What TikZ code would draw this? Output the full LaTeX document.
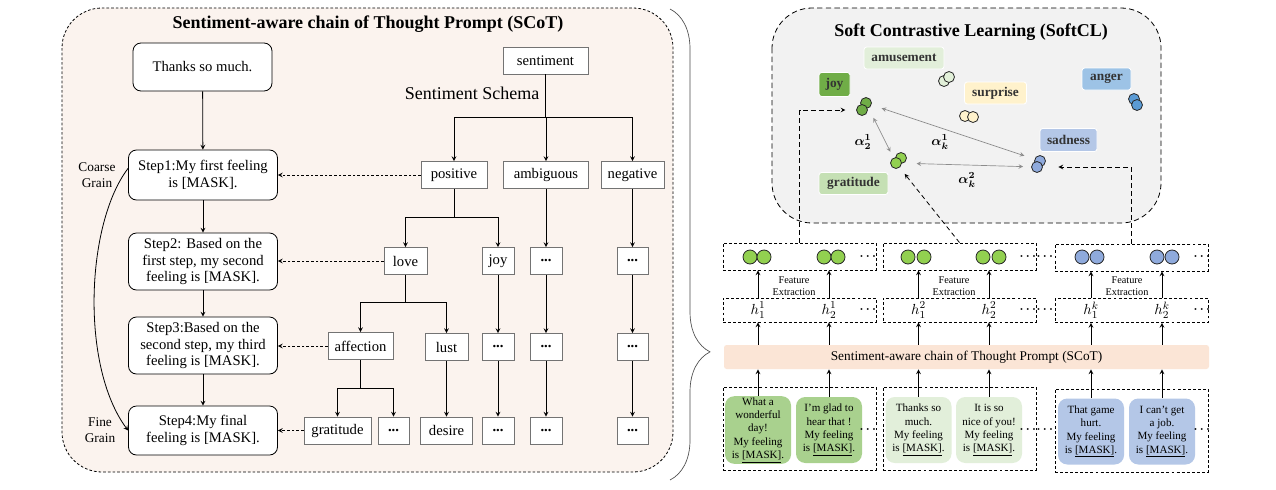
\documentclass[tikz,border=0pt]{standalone}
\usepackage{amsmath,amssymb}
\usepackage{fontspec}
\setmainfont{Liberation Serif}
\usetikzlibrary{decorations.pathreplacing}

\newcommand{\pxl}[1]{#1*0.75pt}

\definecolor{panelbg}{HTML}{FBF3EE}
\definecolor{clbg}{HTML}{F2F2F2}
\definecolor{barbg}{HTML}{FBE5D6}
\definecolor{joyc}{HTML}{70AD47}
\definecolor{grac}{HTML}{92D050}
\definecolor{sadc}{HTML}{8FAADC}
\definecolor{angc}{HTML}{5B9BD5}
\definecolor{amuc}{HTML}{E2F0D9}
\definecolor{surc}{HTML}{FFF2CC}
\definecolor{lamuc}{HTML}{E2EFDA}
\definecolor{lgrac}{HTML}{C5E0B4}
\definecolor{langc}{HTML}{9DC3E6}
\definecolor{lsadc}{HTML}{B4C7E7}
\definecolor{bubg}{HTML}{A9D18E}
\definecolor{bubl}{HTML}{E2EFDA}
\definecolor{bubb}{HTML}{B4C7E7}

\begin{document}
\begin{tikzpicture}[x=0.75pt, y=-0.75pt, line width=0.6pt,
  every node/.style={font=\fontsize{11}{12.5}\selectfont},
  conn/.style={->,>=stealth},
  dconn/.style={->,>=stealth,dash pattern=on 2pt off 1.5pt},
  fconn/.style={->,>=stealth,dash pattern=on 3.5pt off 2.5pt},
  simconn/.style={<->,>=stealth,draw=black!45,line width=0.5pt},
  stepbox/.style={draw,fill=white,rounded corners=6pt,align=center,
    minimum width=\pxl{149},inner sep=1pt},
  tbox/.style={draw=black!55,fill=white,minimum height=\pxl{27},inner sep=1pt},
  emo/.style={draw=white,rounded corners=2pt,text=black!80,
    font=\fontsize{10}{12}\selectfont\bfseries,minimum height=\pxl{22},inner sep=2pt},
  emodot/.style={circle,draw=black!85,minimum size=\pxl{11},inner sep=0pt},
  featdot/.style={circle,draw=black!85,minimum size=\pxl{14},inner sep=0pt},
  dbox/.style={draw,dash pattern=on 2.2pt off 1.6pt,minimum width=\pxl{153},inner sep=0pt},
  hlab/.style={inner sep=0pt},
  bubble/.style={rounded corners=7pt,minimum width=\pxl{66},minimum height=\pxl{66},
    align=center,inner sep=1pt,font=\fontsize{8.3}{10}\selectfont},
  more/.style={font=\fontsize{9}{9}\selectfont\boldmath,inner sep=0pt}]

  \fill[white] (0,0) rectangle (1276,489);
  \useasboundingbox (0,0) rectangle (1276,489);

  % SCoT panel
  \draw[dash pattern=on 2pt off 1.5pt,fill=panelbg,rounded corners=30pt]
    (62,8) rectangle (673,472);
  \node[font=\fontsize{13.5}{16}\selectfont\bfseries] (scottitle) at (368,24)
    {Sentiment-aware chain of Thought Prompt (SCoT)};

  % Steps
  \node[stepbox,minimum width=\pxl{139},minimum height=\pxl{48}] (thanks) at (202.5,67) {Thanks so much.};
  \node[stepbox,minimum height=\pxl{50}] (s1) at (203,175) {Step1:My first feeling\\is [MASK].};
  \node[stepbox,minimum height=\pxl{57}] (s2) at (203,261.5) {Step2: Based on the\\first step, my second\\feeling is [MASK].};
  \node[stepbox,minimum height=\pxl{57}] (s3) at (203,345.5) {Step3:Based on the\\second step, my third\\feeling is [MASK].};
  \node[stepbox,minimum height=\pxl{49}] (s4) at (203,430.5) {Step4:My final\\feeling is [MASK].};
  \foreach \a/\b in {thanks/s1,s1/s2,s2/s3,s3/s4}
    \draw[conn] (\a) -- (\b);

  \node[font=\fontsize{10}{12}\selectfont,align=center] (coarse) at (97,175) {Coarse\\Grain};
  \node[font=\fontsize{10}{12}\selectfont,align=center] (fine) at (100,430) {Fine\\Grain};
  \draw[conn] ([yshift=5pt]s1.west) .. controls +(-42,55) and +(-48,-65) .. (s4.west);

  % Sentiment schema
  \node[tbox,minimum width=\pxl{85}] (sentiment) at (545.5,60.5) {sentiment};
  \node[font=\fontsize{13.5}{16}\selectfont] (schema) at (472,93) {Sentiment Schema};

  \node[tbox,minimum width=\pxl{66}] (positive) at (454,175) {positive};
  \node[tbox,minimum width=\pxl{85}] (ambiguous) at (546,175) {ambiguous};
  \node[tbox,minimum width=\pxl{63}] (negative) at (632.5,175) {negative};

  \node[tbox,minimum width=\pxl{43}] (love) at (405.5,261) {love};
  \node[tbox,minimum width=\pxl{32}] (joy) at (498,261) {joy};
  \node[tbox,minimum width=\pxl{32}] (amb1) at (546,261) {\textbf{...}};
  \node[tbox,minimum width=\pxl{31}] (neg1) at (632.5,261) {\textbf{...}};

  \node[tbox,minimum width=\pxl{65}] (affection) at (360.5,346) {affection};
  \node[tbox,minimum width=\pxl{43}] (lust) at (446.5,347) {lust};
  \node[tbox,minimum width=\pxl{32}] (joy1) at (498,347) {\textbf{...}};
  \node[tbox,minimum width=\pxl{32}] (amb2) at (546,347) {\textbf{...}};
  \node[tbox,minimum width=\pxl{31}] (neg2) at (632.5,347) {\textbf{...}};

  \node[tbox,minimum width=\pxl{67}] (gratitude) at (337.5,430.5) {gratitude};
  \node[tbox,minimum width=\pxl{31}] (aff2) at (393.5,430.5) {\textbf{...}};
  \node[tbox,minimum width=\pxl{52}] (desire) at (446.5,430.5) {desire};
  \node[tbox,minimum width=\pxl{32}] (joy2) at (498,430.5) {\textbf{...}};
  \node[tbox,minimum width=\pxl{32}] (amb3) at (546,430.5) {\textbf{...}};
  \node[tbox,minimum width=\pxl{31}] (neg3) at (632.5,430.5) {\textbf{...}};

  \coordinate (j0) at (545.5,117);
  \draw (sentiment) -- (j0);
  \draw (j0 -| positive) -- (j0 -| negative);
  \foreach \n in {positive,ambiguous,negative}
    \draw[conn] (j0 -| \n) -- (\n);

  \coordinate (j1) at (454,217);
  \draw (positive) -- (j1);
  \draw (j1 -| love) -- (j1 -| joy);
  \foreach \n in {love,joy}
    \draw[conn] (j1 -| \n) -- (\n);

  \coordinate (j2) at (405.5,302);
  \draw (love) -- (j2);
  \draw (j2 -| affection) -- (j2 -| lust);
  \foreach \n in {affection,lust}
    \draw[conn] (j2 -| \n) -- (\n);

  \coordinate (j3) at (360.5,388);
  \draw (affection) -- (j3);
  \draw (j3 -| gratitude) -- (j3 -| aff2);
  \foreach \n in {gratitude,aff2}
    \draw[conn] (j3 -| \n) -- (\n);

  \foreach \a/\b in {ambiguous/amb1,amb1/amb2,amb2/amb3,negative/neg1,neg1/neg2,
      neg2/neg3,joy/joy1,joy1/joy2,lust/desire}
    \draw[conn] (\a) -- (\b);

  \draw[dconn] (positive) -- (positive -| s1.east);
  \draw[dconn] (love) -- (love -| s2.east);
  \draw[dconn] (affection) -- (affection -| s3.east);
  \draw[dconn] (gratitude) -- (gratitude -| s4.east);

  % Brace
  \draw[black!70,line width=0.5pt,decorate,decoration={brace,amplitude=30pt,aspect=0.728}]
    (670,9) -- (670,480);

  % SoftCL panel
  \draw[dash pattern=on 4pt off 2.5pt,fill=clbg,rounded corners=30pt]
    (772,8) rectangle (1161,223);
  \node[font=\fontsize{13.5}{16}\selectfont\bfseries] (cltitle) at (971,32)
    {Soft Contrastive Learning (SoftCL)};

  \node[emo,fill=lamuc,minimum width=\pxl{80}] (lamu) at (904,58) {amusement};
  \node[emo,fill=joyc,minimum width=\pxl{31},minimum height=\pxl{24}] (ljoy) at (834.5,84.5) {joy};
  \node[emo,fill=langc,minimum width=\pxl{49}] (lang) at (1106.5,79) {anger};
  \node[emo,fill=surc,minimum width=\pxl{62}] (lsur) at (995.5,93) {surprise};
  \node[emo,fill=lsadc,minimum width=\pxl{57},minimum height=\pxl{23}] (lsad) at (1068.5,140) {sadness};
  \node[emo,fill=lgrac,minimum width=\pxl{69}] (lgra) at (853.5,183.5) {gratitude};

  \node[emodot,fill=amuc] (amuA) at (944,81) {};
  \node[emodot,fill=amuc] (amuB) at (949,77) {};
  \node[emodot,fill=surc] (surA) at (965,116) {};
  \node[emodot,fill=surc] (surB) at (973,117) {};
  \node[emodot,fill=joyc] (joyA) at (866,103) {};
  \node[emodot,fill=joyc] (joyB) at (862,110) {};
  \node[emodot,fill=grac] (graA) at (901,158) {};
  \node[emodot,fill=grac] (graB) at (896,163) {};
  \node[emodot,fill=sadc] (sadA) at (1040,161) {};
  \node[emodot,fill=sadc] (sadB) at (1037,167) {};
  \node[emodot,fill=angc] (angA) at (1134,99) {};
  \node[emodot,fill=angc] (angB) at (1137,105) {};

  \draw[simconn,shorten <=8pt,shorten >=5pt] (joyA) -- (graB);
  \draw[simconn,shorten <=8pt,shorten >=8pt] (joyA) -- (sadA);
  \draw[simconn,shorten <=11pt,shorten >=6pt] (graB) -- (sadB);

  \node[font=\fontsize{10}{12}\selectfont\boldmath] (a21) at (863,142) {$\alpha_2^1$};
  \node[font=\fontsize{10}{12}\selectfont\boldmath] (ak1) at (940,142) {$\alpha_k^1$};
  \node[font=\fontsize{10}{12}\selectfont\boldmath] (ak2) at (967,180) {$\alpha_k^2$};

  % Feature boxes
  \node[dbox,minimum height=\pxl{27}] (fb1) at (799.5,256.5) {};
  \node[dbox,minimum height=\pxl{27}] (fb2) at (959.5,256.5) {};
  \node[dbox,minimum height=\pxl{27}] (fb3) at (1131.5,257.5) {};
  \foreach \x/\c in {750/grac,764/grac,824/grac,838/grac,908/grac,924/grac,
      983/grac,999/grac,1082/sadc,1097/sadc,1157/sadc,1172/sadc}
    \node[featdot,fill=\c] (f\x) at (\x,257) {};

  \node[dbox,minimum height=\pxl{24}] (hb1) at (799.5,310) {};
  \node[dbox,minimum height=\pxl{24}] (hb2) at (959.5,310) {};
  \node[dbox,minimum height=\pxl{24}] (hb3) at (1131.5,310.5) {};
  \node[hlab] (h11) at (758,310) {$h_1^1$};
  \node[hlab] (h21) at (829,310) {$h_2^1$};
  \node[hlab] (h12) at (918.5,310) {$h_1^2$};
  \node[hlab] (h22) at (989,310) {$h_2^2$};
  \node[hlab] (h1k) at (1091,310) {$h_1^k$};
  \node[hlab] (h2k) at (1162,310) {$h_2^k$};

  \foreach \x/\y in {794/fe1,954/fe2,1127/fe3}
    \node[font=\fontsize{7.7}{9}\selectfont,align=center,inner sep=0pt] (\y) at (\x,286)
      {Feature\\Extraction};

  \node[fill=barbg,rounded corners=2pt,minimum width=\pxl{485},minimum height=\pxl{24},
    font=\fontsize{10}{12}\selectfont] (bar) at (966.5,357)
    {Sentiment-aware chain of Thought Prompt (SCoT)};

  % Inputs
  \node[dbox,minimum height=\pxl{83}] (tg1) at (799.5,428.5) {};
  \node[dbox,minimum height=\pxl{83}] (tg2) at (959.5,428.5) {};
  \node[dbox,minimum height=\pxl{83}] (tg3) at (1131.5,430.5) {};
  \node[bubble,fill=bubg] (b1) at (758,430) {What a\\wonderful\\day!\\My feeling\\is \underline{[MASK]}.};
  \node[bubble,fill=bubg] (b2) at (829,430) {I’m glad to\\hear that !\\My feeling\\is \underline{[MASK]}.};
  \node[bubble,fill=bubl] (b3) at (918.5,430) {Thanks so\\much.\\My feeling\\is \underline{[MASK]}.};
  \node[bubble,fill=bubl] (b4) at (989,430) {It is so\\nice of you!\\My feeling\\is \underline{[MASK]}.};
  \node[bubble,fill=bubb] (b5) at (1091,431.5) {That game\\hurt.\\My feeling\\is \underline{[MASK]}.};
  \node[bubble,fill=bubb] (b6) at (1162,431.5) {I can't get\\a job.\\My feeling\\is \underline{[MASK]}.};

  \foreach \y in {257,310,430}
    \foreach \x in {869,1029,1046,1203}
      \node[more] (m\x\y) at (\x,\y) {$\cdots$};

  \foreach \b/\h/\g in {b1/h11/1,b2/h21/1,b3/h12/2,b4/h22/2,b5/h1k/3,b6/h2k/3}{
    \draw[conn] (\b) -- (\b |- bar.south);
    \draw[conn] (\h |- bar.north) -- (\h |- hb\g.south);
    \draw[conn] (\h |- hb\g.north) -- (\h |- fb\g.south);
  }

  % Into SoftCL
  \draw[fconn,shorten >=8pt] (fb1.north) |- (joyB);
  \draw[fconn,shorten >=6pt] (fb2.north) -- (graB);
  \draw[fconn,shorten >=11.6pt] (fb3.north) |- (sadB);
\end{tikzpicture}
\end{document}
